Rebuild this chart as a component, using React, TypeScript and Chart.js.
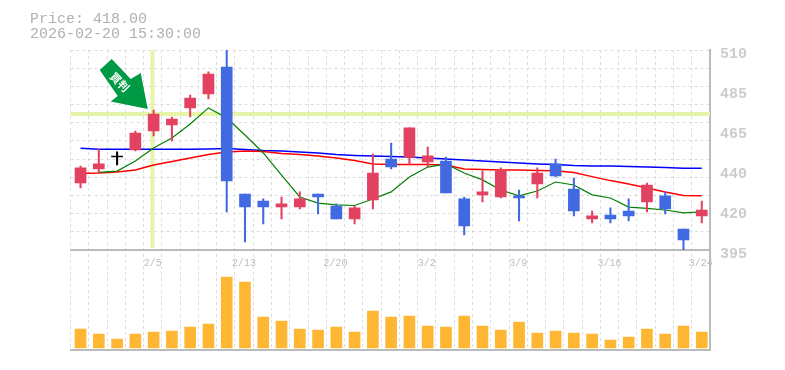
import React, { useEffect, useRef } from "react";
import { Chart, registerables } from "chart.js";

Chart.register(...registerables);

const dateLabels = ["", "", "", "", "2/5", "", "", "", "", "2/13", "", "", "", "", "2/20", "", "", "", "", "3/2", "", "", "", "", "3/9", "", "", "", "", "3/16", "", "", "", "", "3/24"];
const categories = dateLabels.map((d, i) => d || `d${i}`);
const opens = [433.5, 441.6, 448.5, 452.5, 463.4, 466.9, 476.7, 484.7, 500.2, 427.2, 423.2, 419.7, 419.7, 427.2, 420.3, 412.8, 423.8, 447.3, 448.3, 445.6, 446.2, 424.4, 426.7, 425.5, 426.1, 433.0, 444.5, 430.1, 412.8, 415.1, 417.4, 422.6, 426.1, 407.1, 414.6];
const closes = [442.2, 444.5, 448.5, 462.3, 473.2, 470.3, 482.4, 496.2, 434.7, 419.7, 419.7, 421.5, 424.4, 425.5, 412.8, 419.2, 439.3, 442.7, 465.2, 449.1, 427.8, 408.8, 428.4, 440.5, 425.0, 439.3, 437.6, 417.4, 414.6, 412.8, 414.6, 432.4, 418.6, 400.8, 418.0];
const highs = [443.3, 453.1, 451.4, 463.4, 475.5, 471.5, 484.1, 497.4, 510.0, 427.2, 424.4, 425.5, 428.4, 427.2, 421.5, 420.3, 450.2, 456.5, 465.2, 454.2, 448.5, 425.5, 440.5, 442.2, 429.5, 442.2, 447.3, 436.4, 417.4, 419.2, 424.4, 433.5, 428.4, 407.1, 423.2];
const lows = [430.7, 439.3, 443.9, 451.9, 460.6, 457.7, 471.5, 481.8, 416.9, 399.6, 410.0, 412.8, 418.6, 415.7, 412.8, 410.0, 418.6, 441.6, 443.9, 442.7, 427.8, 403.6, 422.6, 424.9, 411.7, 424.9, 437.0, 414.6, 410.5, 410.5, 411.7, 416.9, 415.7, 394.9, 410.5];
const ma5 = [null, 439.6, 440.4, 446.2, 453.6, 459.4, 467.5, 476.7, 470.9, 461.1, 450.8, 438.1, 425.5, 422.0, 420.9, 420.6, 424.3, 428.4, 437.0, 442.7, 444.5, 439.3, 435.3, 429.5, 426.1, 428.9, 434.1, 432.4, 426.7, 424.9, 419.7, 418.9, 418.0, 416.3, 416.9];
const ma25 = [439.0, 439.3, 439.9, 441.0, 443.9, 445.9, 447.9, 449.9, 451.4, 451.9, 451.6, 450.5, 449.9, 449.1, 447.9, 446.4, 444.5, 444.1, 444.1, 444.1, 443.9, 441.6, 441.3, 441.0, 441.0, 440.7, 440.5, 439.6, 437.2, 434.9, 433.0, 430.7, 428.4, 426.4, 426.2];
const ma75 = [453.5, 452.9, 452.9, 452.9, 452.9, 452.9, 452.9, 453.1, 453.4, 452.8, 452.2, 451.9, 451.4, 450.8, 449.9, 449.4, 449.1, 448.7, 448.5, 447.9, 447.3, 446.8, 446.2, 445.6, 445.0, 444.5, 444.2, 443.6, 443.3, 443.3, 443.0, 442.7, 442.5, 442.0, 442.0];
const volumes = [190, 140, 90, 140, 160, 170, 210, 240, 710, 660, 310, 270, 190, 180, 210, 160, 370, 310, 320, 220, 210, 320, 220, 180, 260, 150, 170, 150, 140, 80, 110, 190, 140, 220, 160];
const priceLabelTicks = [395, 418, 441, 464, 487, 510];
const priceGridStep = 115 / 11;
const priceMin = 395;
const priceMax = 510;
const headerLines = ["Price: 418.00", "2026-02-20 15:30:00"];
const arrowText = "\u8cb7\u5224";
const crossIndex = 4;
const crossPrice = 473.2;

const UP = "#e2425f";
const DOWN = "#4169e1";
const FLAT = "#000000";
const candleColor = (i: number) =>
  closes[i] === opens[i] ? FLAT : closes[i] > opens[i] ? UP : DOWN;

const roundLabel = (v: number) => String(Math.round(v / 5) * 5);

const overlays = {
  id: "overlays",
  beforeDatasetsDraw(chart: any) {
    const { ctx, chartArea, scales } = chart;
    ctx.save();
    ctx.strokeStyle = "#e4f5aa";
    ctx.lineWidth = 4;
    const cx = Math.round(scales.x.getPixelForValue(crossIndex)) - 0.5;
    const cy = scales.y.getPixelForValue(crossPrice);
    ctx.beginPath();
    ctx.moveTo(cx, chartArea.top);
    ctx.lineTo(cx, scales.y.bottom - 2);
    ctx.moveTo(chartArea.left, cy);
    ctx.lineTo(chartArea.right, cy);
    ctx.stroke();
    ctx.restore();
  },
  beforeDatasetDraw(chart: any) {
    chart.ctx.save();
    chart.ctx.translate(0.9, 0);
  },
  afterDatasetDraw(chart: any) {
    chart.ctx.restore();
  },
  afterDraw(chart: any) {
    const { ctx, scales } = chart;
    ctx.save();
    ctx.font = '15px "Liberation Mono", monospace';
    ctx.fillStyle = "#b0b0b0";
    ctx.textBaseline = "alphabetic";
    ctx.textAlign = "left";
    ctx.fillText(headerLines[0], 30, 23);
    ctx.fillText(headerLines[1], 30, 38);

    // Green arrow pointing at the marked candle
    const tipX = scales.x.getPixelForValue(crossIndex) - 5;
    const tipY = scales.y.getPixelForValue(highs[crossIndex] + 0.6);
    ctx.translate(tipX, tipY);
    ctx.fillStyle = "#009944";
    ctx.beginPath();
    ctx.moveTo(0, 0);
    ctx.lineTo(-37, -7.5);
    ctx.lineTo(-30, -13);
    ctx.lineTo(-48, -39);
    ctx.lineTo(-36, -50);
    ctx.lineTo(-17, -30);
    ctx.lineTo(-7, -36);
    ctx.closePath();
    ctx.fill();
    ctx.fillStyle = "#ffffff";
    ctx.font = 'bold 11px "Noto Sans CJK JP", sans-serif';
    ctx.textAlign = "center";
    ctx.textBaseline = "middle";
    ctx.translate(-28, -27);
    ctx.rotate(Math.PI / 4);
    ctx.fillText(arrowText, 0, 0);
    ctx.restore();
  },
};

export default function App() {
  const ref = useRef<HTMLCanvasElement | null>(null);

  useEffect(() => {
    document.body.style.margin = "0";
    const common = { xAxisID: "x", yAxisID: "y" };
    const lineStyle = { type: "line" as const, pointRadius: 0, borderWidth: 1.5, tension: 0, spanGaps: false, ...common };
    const chart = new Chart(ref.current as HTMLCanvasElement, {
      type: "bar",
      plugins: [overlays],
      data: {
        labels: categories,
        datasets: [
          { ...lineStyle, label: "MA75", data: ma75, borderColor: "#0000ff", order: 6 },
          { ...lineStyle, label: "MA25", data: ma25, borderColor: "#ff0000", order: 5 },
          { ...lineStyle, label: "MA5", data: ma5, borderColor: "#008000", borderWidth: 1.2, order: 4 },
          {
            type: "bar", label: "Wick", ...common, order: 3, grouped: false, barThickness: 1.4,
            data: highs.map((h, i) => [lows[i], h]),
            backgroundColor: highs.map((_, i) => candleColor(i)),
          },
          {
            type: "bar", label: "Body", ...common, order: 2, grouped: false, barThickness: 11, minBarLength: 1,
            data: opens.map((o, i) => [o, closes[i]]),
            backgroundColor: opens.map((_, i) => candleColor(i)),
          },
          {
            type: "bar", label: "Volume", xAxisID: "x", yAxisID: "yVol", order: 1, grouped: false, barThickness: 11,
            data: volumes, backgroundColor: "#ffb733",
          },
        ],
      } as any,
      options: {
        responsive: false,
        animation: false,
        events: [],
        layout: { padding: { left: 70.5, top: 50, right: 0, bottom: 20 } },
        plugins: { legend: { display: false }, tooltip: { enabled: false }, title: { display: false } },
        scales: {
          x: {
            type: "category",
            offset: true,
            grid: { color: "#dddddd", lineWidth: 1, offset: true, tickLength: 0, drawTicks: false },
            border: { color: "#bbbbbb", width: 2, dash: [3, 3] as any },
            ticks: { display: false },
          },
          x2: {
            type: "category",
            position: { y: priceMin },
            offset: true,
            labels: categories,
            grid: { display: false, drawTicks: false },
            border: { display: false },
            ticks: {
              autoSkip: false,
              maxRotation: 0,
              padding: 7,
              color: "#bdbdbd",
              font: { family: '"Liberation Mono", monospace', size: 10 },
              callback: (_: any, i: number) => dateLabels[i],
            },
          },
          y: {
            position: "right",
            stack: "panels",
            stackWeight: 2,
            min: priceMin,
            max: priceMax,
            afterBuildTicks: (s: any) => {
              const grid = Array.from({ length: 12 }, (_, i) => priceMin + i * priceGridStep);
              const extra = priceLabelTicks.filter((t) => !grid.some((g) => Math.abs(g - t) < 0.01));
              s.ticks = [...grid, ...extra].sort((a, b) => a - b).map((value) => ({ value }));
            },
            afterFit: (s: any) => { s.width = 75; },
            grid: {
              drawTicks: false,
              color: (c: any) => {
                const v = c.tick?.value;
                return Array.from({ length: 12 }, (_, i) => priceMin + i * priceGridStep).some((g) => Math.abs(g - v) < 0.01) && v !== priceMin
                  ? "#dddddd" : "rgba(0,0,0,0)";
              },
            },
            border: { color: "#bbbbbb", width: 2, dash: [3, 3] as any },
            ticks: {
              autoSkip: false,
              padding: 10,
              labelOffset: 4,
              color: "#cccccc",
              font: { family: '"Liberation Mono", monospace', size: 15, weight: "bold" },
              callback: (v: any) => (priceLabelTicks.some((t) => Math.abs(t - v) < 0.01) ? roundLabel(v) : ""),
            },
          },
          yVol: {
            position: "right",
            stack: "panels",
            stackWeight: 1,
            min: -20,
            max: 980,
            afterBuildTicks: (s: any) => { s.ticks = [{ value: -20 }, { value: 980 }]; },
            afterFit: (s: any) => { s.width = 75; },
            grid: { color: "#bbbbbb", lineWidth: 2, drawTicks: false },
            border: { color: "#bbbbbb", width: 2 },
            ticks: { display: false },
          },
        },
      } as any,
    });
    return () => chart.destroy();
  }, []);

  return <canvas ref={ref} width={785} height={370} style={{ display: "block" }} />;
}
